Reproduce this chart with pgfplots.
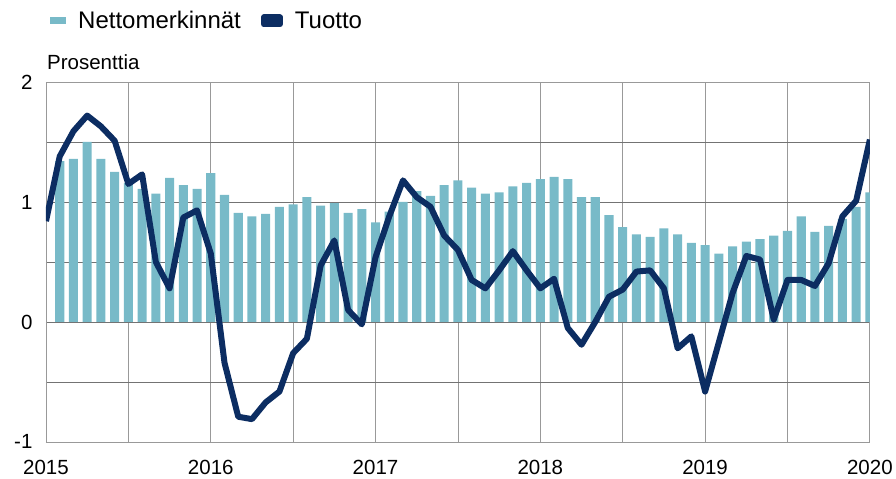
\documentclass[border=0pt]{standalone}
\usepackage{pgfplots}
\pgfplotsset{compat=1.18}
\usepackage{fontspec}
\setmainfont{Liberation Sans}

\definecolor{barteal}{RGB}{120,186,200}
\definecolor{linenavy}{RGB}{12,45,98}

% Nettomerkinnät, monthly, x = months since Jan 2015
\pgfplotstableread{
x y
1 1.34
2 1.36
3 1.50
4 1.36
5 1.25
6 1.16
7 1.11
8 1.07
9 1.20
10 1.14
11 1.11
12 1.24
13 1.06
14 0.91
15 0.88
16 0.90
17 0.96
18 0.98
19 1.04
20 0.97
21 0.99
22 0.91
23 0.94
24 0.83
25 0.92
26 1.00
27 1.09
28 1.05
29 1.14
30 1.18
31 1.12
32 1.07
33 1.08
34 1.13
35 1.16
36 1.19
37 1.21
38 1.19
39 1.04
40 1.04
41 0.89
42 0.79
43 0.73
44 0.71
45 0.78
46 0.73
47 0.66
48 0.64
49 0.57
50 0.63
51 0.67
52 0.69
53 0.72
54 0.76
55 0.88
56 0.75
57 0.80
58 0.86
59 0.96
60 1.08
}\netto

% Tuotto
\pgfplotstableread{
x y
0 0.84
1 1.38
2 1.59
3 1.72
4 1.63
5 1.51
6 1.15
7 1.23
8 0.50
9 0.28
10 0.87
11 0.93
12 0.57
13 -0.34
14 -0.79
15 -0.81
16 -0.67
17 -0.58
18 -0.26
19 -0.14
20 0.47
21 0.68
22 0.10
23 -0.02
24 0.54
25 0.88
26 1.18
27 1.04
28 0.96
29 0.72
30 0.60
31 0.35
32 0.28
33 0.43
34 0.59
35 0.43
36 0.28
37 0.36
38 -0.05
39 -0.19
40 0.00
41 0.21
42 0.27
43 0.42
44 0.43
45 0.28
46 -0.22
47 -0.12
48 -0.58
49 -0.17
50 0.24
51 0.55
52 0.52
53 0.02
54 0.35
55 0.35
56 0.30
57 0.49
58 0.88
59 1.01
60 1.52
}\tuotto

\begin{document}
\begin{tikzpicture}
\begin{axis}[
    scale only axis,
    width=824pt, height=360pt,
    xmin=0, xmax=60,
    ymin=-1, ymax=2,
    xtick={0,12,24,36,48,60},
    xticklabels={2015,2016,2017,2018,2019,2020},
    minor xtick={6,18,30,42,54},
    ytick={-1,0,1,2},
    yticklabels={-1,0,1,2},
    minor ytick={-0.5,0.5,1.5},
    grid=both,
    major grid style={draw=black!55, line width=0.8pt},
    minor grid style={draw=black!55, line width=0.8pt},
    x grid style={draw=black!40},
    axis line style={draw=black!40, line width=0.8pt},
    tick style={draw=none},
    tick label style={font=\fontsize{20.5}{24}\selectfont},
    yticklabel style={xshift=-10pt},
    xticklabel style={yshift=-15pt},
    legend columns=2,
    legend style={
        at={(rel axis cs:0,1)}, anchor=west,
        xshift=1pt, yshift=61pt,
        draw=none, fill=none,
        font=\fontsize{24}{28}\selectfont,
        /tikz/every odd column/.append style={column sep=10pt},
        /tikz/every even column/.append style={column sep=18pt},
    },
]
\addplot[ybar, bar width=0.66, fill=barteal, draw=none,
    legend image code/.code={\fill[barteal] (0pt,-3.5pt) rectangle (16pt,3.5pt);}]
    table[x=x, y=y] {\netto};
\addlegendentry{Nettomerkinnät}
\addplot[linenavy, line width=6pt, line join=round,
    legend image code/.code={\fill[linenavy] (0pt,-3.5pt) rectangle (16pt,3.5pt);}]
    table[x=x, y=y] {\tuotto};
\addlegendentry{Tuotto}
\end{axis}
\node[anchor=base west, font=\fontsize{20.5}{24}\selectfont, inner sep=0pt]
    at ([xshift=1pt, yshift=12pt]current axis.north west) {Prosenttia};
\path (current axis.south west) ++(-46pt,-37pt) (current axis.north east) ++(26pt,82pt);
\end{tikzpicture}
\end{document}
